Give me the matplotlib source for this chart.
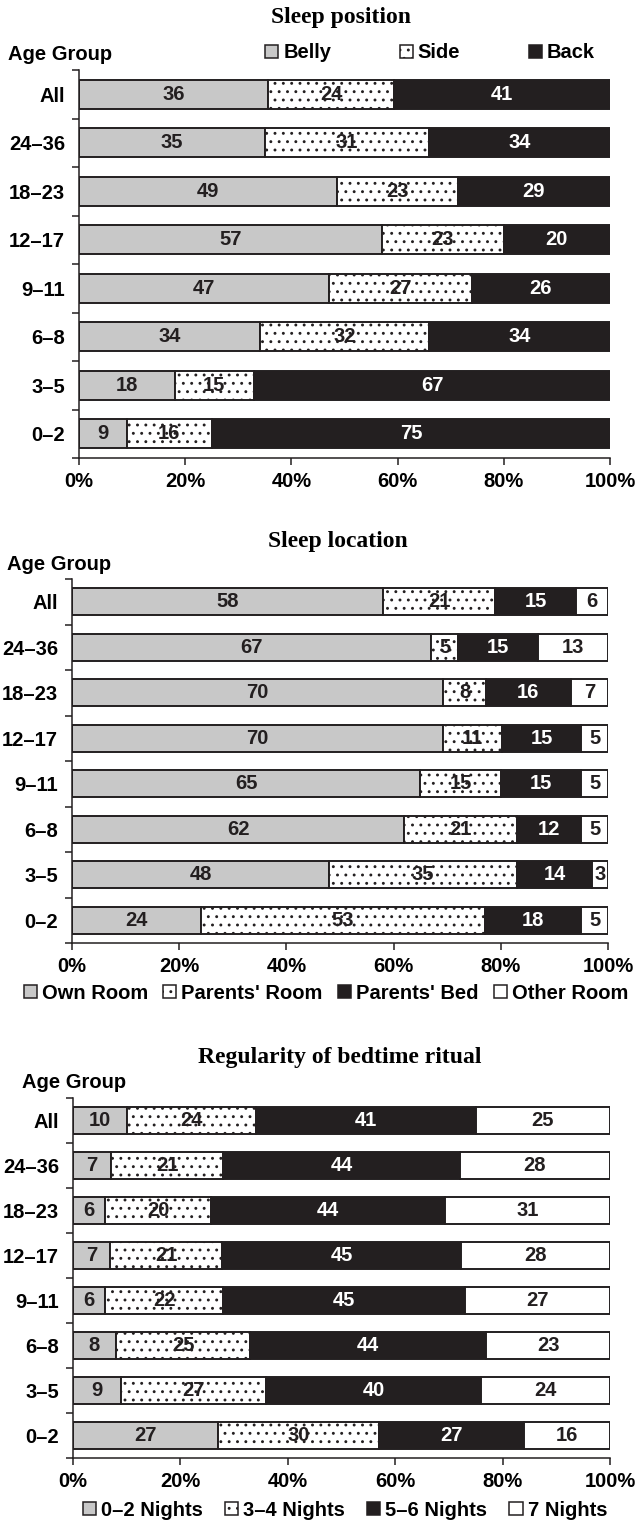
import matplotlib
matplotlib.use("Agg")
import matplotlib.pyplot as plt
from matplotlib.patches import Patch
import numpy as np

plt.rcParams["font.family"] = ["Liberation Sans", "DejaVu Sans"]
plt.rcParams["font.weight"] = "bold"
plt.rcParams["hatch.linewidth"] = 0.9

# Age groups, top to bottom
age_groups = ["All", "24–36", "18–23", "12–17", "9–11", "6–8", "3–5", "0–2"]
pct_ticks = [0, 20, 40, 60, 80, 100]

# Sleep position (%)
position_labels = ["Belly", "Side", "Back"]
belly = [36, 35, 49, 57, 47, 34, 18, 9]
side = [24, 31, 23, 23, 27, 32, 15, 16]
back = [41, 34, 29, 20, 26, 34, 67, 75]

# Sleep location (%)
location_labels = ["Own Room", "Parents' Room", "Parents' Bed", "Other Room"]
own_room = [58, 67, 70, 70, 65, 62, 48, 24]
parents_room = [21, 5, 8, 11, 15, 21, 35, 53]
parents_bed = [15, 15, 16, 15, 15, 12, 14, 18]
other_room = [6, 13, 7, 5, 5, 5, 3, 5]

# Regularity of bedtime ritual (%)
ritual_labels = ["0–2 Nights", "3–4 Nights", "5–6 Nights", "7 Nights"]
nights_0_2 = [10, 7, 6, 7, 6, 8, 9, 27]
nights_3_4 = [24, 21, 20, 21, 22, 25, 27, 30]
nights_5_6 = [41, 44, 44, 45, 45, 44, 40, 27]
nights_7 = [25, 28, 31, 28, 27, 23, 24, 16]

GRAY = "#c8c8c8"
INK = "#231f20"
FS = 14.5
# (fill, hatch, text colour) for each segment style
STYLES = {
    "gray": (GRAY, None, INK),
    "dots": ("white", "..", INK),
    "black": (INK, None, "white"),
    "white": ("white", None, INK),
}

W, H = 640, 1522
fig = plt.figure(figsize=(W / 100, H / 100), dpi=100)


def px_axes(left, right, top, bottom):
    return fig.add_axes([left / W, 1 - bottom / H, (right - left) / W, (bottom - top) / H])


def draw_panel(ax, series, styles):
    y = np.arange(len(age_groups))
    data = np.array(series, dtype=float)
    totals = data.sum(axis=0)
    widths = data / totals * 100  # rounded values don't always add to 100
    lefts = np.zeros(len(age_groups))
    for vals, w, style in zip(series, widths, styles):
        fc, hatch, tc = STYLES[style]
        ax.barh(y, w, left=lefts, height=0.6, color=fc, edgecolor=INK,
                hatch=hatch, linewidth=1.4)
        for yi, v, l, wi in zip(y, vals, lefts, w):
            ax.text(l + wi / 2, yi, str(v), ha="center", va="center",
                    color=tc, fontsize=FS, fontweight="bold")
        lefts = lefts + w

    ax.set_xlim(0, 100)
    ax.set_ylim(len(age_groups) - 0.5, -0.5)
    ax.set_xticks(pct_ticks)
    ax.set_xticklabels([f"{t}%" for t in pct_ticks], fontsize=FS)
    ax.set_yticks(y)
    ax.set_yticklabels(age_groups, fontsize=FS)
    ax.set_yticks(np.arange(-0.5, len(age_groups), 1), minor=True)
    ax.tick_params(axis="y", which="major", length=0, pad=10)
    ax.tick_params(axis="y", which="minor", length=5, width=1.1, color=INK)
    ax.tick_params(axis="x", length=5, width=1.1, color=INK, pad=5)
    for s in ["top", "right"]:
        ax.spines[s].set_visible(False)
    for s in ["left", "bottom"]:
        ax.spines[s].set_color(INK)
        ax.spines[s].set_linewidth(1.1)


def handles(styles):
    out = []
    for style in styles:
        fc, hatch, _ = STYLES[style]
        out.append(Patch(facecolor=fc, edgecolor=INK, hatch=hatch, linewidth=1.1))
    return out


legend_kw = dict(loc="center", frameon=False, handlelength=0.65, handleheight=0.65,
                 handletextpad=0.25, prop={"size": FS, "weight": "bold"}, borderpad=0)
title_kw = dict(ha="center", va="center", fontsize=17, fontweight="bold",
                family="Liberation Serif")

# Panel 1: sleep position
ax1 = px_axes(79, 610, 70, 458)
draw_panel(ax1, [belly, side, back], ["gray", "dots", "black"])
fig.text(341 / W, 1 - 18 / H, "Sleep position", **title_kw)
fig.text(8 / W, 1 - 55 / H, "Age Group", ha="left", va="center", fontsize=FS)
fig.legend(handles(["gray", "dots", "black"]), position_labels, ncol=3,
           bbox_to_anchor=(430 / W, 1 - 53 / H), columnspacing=3.4, **legend_kw)

# Panel 2: sleep location
ax2 = px_axes(72, 608, 579, 943)
draw_panel(ax2, [own_room, parents_room, parents_bed, other_room],
           ["gray", "dots", "black", "white"])
fig.text(338 / W, 1 - 541 / H, "Sleep location", **title_kw)
fig.text(7 / W, 1 - 565 / H, "Age Group", ha="left", va="center", fontsize=FS)
fig.legend(handles(["gray", "dots", "black", "white"]), location_labels, ncol=4,
           bbox_to_anchor=(326 / W, 1 - 993 / H), columnspacing=0.75, **legend_kw)

# Panel 3: regularity of bedtime ritual
ax3 = px_axes(73, 610, 1098, 1458)
draw_panel(ax3, [nights_0_2, nights_3_4, nights_5_6, nights_7],
           ["gray", "dots", "black", "white"])
fig.text(340 / W, 1 - 1058 / H, "Regularity of bedtime ritual", **title_kw)
fig.text(22 / W, 1 - 1082 / H, "Age Group", ha="left", va="center", fontsize=FS)
fig.legend(handles(["gray", "dots", "black", "white"]), ritual_labels, ncol=4,
           bbox_to_anchor=(345 / W, 1 - 1510 / H), columnspacing=1.1, **legend_kw)

fig.savefig("out.png", dpi=100)
